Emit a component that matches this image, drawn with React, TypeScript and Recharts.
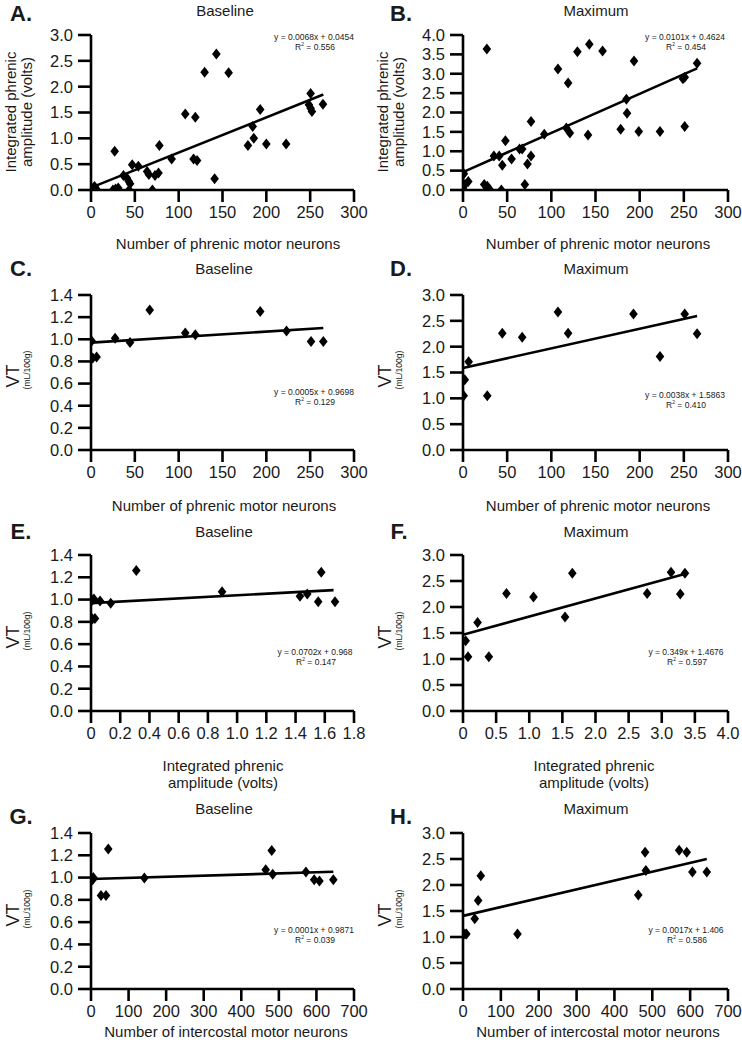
import React from 'react';
import { ScatterChart, Scatter, XAxis, YAxis, ReferenceLine } from 'recharts';

const FONT = '"Liberation Sans", Arial, Helvetica, sans-serif';

// ---------- Data ----------
const aX = [0, 1, 2, 4, 6, 27, 25, 28, 31, 37, 41, 43, 44.6, 43.5, 47, 54, 64, 66, 70, 73, 77, 78, 92, 107.5, 119, 117, 121, 129.6, 143, 141, 157, 179, 184.5, 185.7, 193, 200, 222.6, 250.5, 248.6, 250.5, 252, 264.6];
const aY = [0.05, 0.0, 0.02, 0.07, 0.02, 0.75, 0.0, 0.02, 0.04, 0.28, 0.23, 0.17, 0.12, 0.0, 0.49, 0.46, 0.36, 0.3, 0.0, 0.28, 0.33, 0.86, 0.6, 1.47, 1.41, 0.6, 0.57, 2.28, 2.63, 0.22, 2.27, 0.86, 1.23, 1.0, 1.56, 0.89, 0.89, 1.87, 1.65, 1.58, 1.52, 1.66];

const bX = [0, 0, 1, 2.5, 6, 27, 24, 27.5, 30, 35, 41, 43.4, 44.5, 48, 55, 64, 67, 70, 73, 77, 77, 92, 107.5, 119, 117, 121, 129.5, 143, 141.5, 158, 178.5, 185, 185.7, 193.6, 199, 223, 249, 251, 251, 265];
const bY = [0.05, 0.0, 0.42, 0.15, 0.22, 3.64, 0.14, 0.1, 0.02, 0.88, 0.88, 0.0, 0.64, 1.27, 0.8, 1.06, 1.06, 0.14, 0.67, 0.88, 1.77, 1.44, 3.12, 2.76, 1.6, 1.47, 3.57, 3.76, 1.42, 3.59, 1.57, 2.34, 1.98, 3.33, 1.51, 1.51, 2.87, 2.91, 1.64, 3.27];

const cX = [0.8, 2, 6.4, 27.5, 44.5, 67, 107.5, 119, 193, 223, 251, 265];
const cY = [0.985, 0.83, 0.84, 1.01, 0.97, 1.265, 1.057, 1.04, 1.25, 1.075, 0.98, 0.98];

const dX = [0.8, 2, 6.4, 27.5, 44.5, 67, 107.5, 119, 193, 223, 251, 265];
const dY = [1.05, 1.36, 1.71, 1.05, 2.26, 2.18, 2.67, 2.26, 2.63, 1.81, 2.63, 2.25];

const eX = [0.01, 0.02, 0.01, 0.027, 0.062, 0.135, 0.31, 0.897, 1.43, 1.48, 1.555, 1.576, 1.67];
const eY = [0.996, 1.005, 0.826, 0.83, 0.987, 0.966, 1.26, 1.07, 1.03, 1.05, 0.98, 1.245, 0.98];

const fX = [0.04, 0.076, 0.22, 0.39, 0.656, 1.064, 1.54, 1.65, 2.78, 3.14, 3.28, 3.35];
const fY = [1.35, 1.045, 1.7, 1.045, 2.26, 2.19, 1.81, 2.65, 2.26, 2.67, 2.25, 2.65];

const gX = [4.4, 6, 26.6, 40, 46, 142, 465, 481, 483.6, 572, 594, 608, 645];
const gY = [0.98, 1.0, 0.84, 0.84, 1.256, 0.996, 1.07, 1.244, 1.03, 1.05, 0.98, 0.97, 0.98];

const hX = [5, 9, 31, 40, 47, 144, 463, 481, 483, 571, 591, 606, 644];
const hY = [1.06, 1.06, 1.35, 1.7, 2.18, 1.06, 1.81, 2.63, 2.28, 2.67, 2.63, 2.25, 2.25];

// regression: [slope, intercept, xStart, xEnd]
const fitA = [0.0068, 0.0454, 0, 265];
const fitB = [0.0101, 0.4624, 0, 265];
const fitC = [0.0005, 0.9698, 0, 265];
const fitD = [0.0038, 1.5863, 0, 265];
const fitE = [0.0702, 0.968, 0, 1.66];
const fitF = [0.349, 1.4676, 0, 3.36];
const fitG = [0.0001, 0.9871, 0, 645];
const fitH = [0.0017, 1.406, 0, 644];

const eqA = ['y = 0.0068x + 0.0454', '0.556'];
const eqB = ['y = 0.0101x + 0.4624', '0.454'];
const eqC = ['y = 0.0005x + 0.9698', '0.129'];
const eqD = ['y = 0.0038x + 1.5863', '0.410'];
const eqE = ['y = 0.0702x + 0.968', '0.147'];
const eqF = ['y = 0.349x + 1.4676', '0.597'];
const eqG = ['y = 0.0001x + 0.9871', '0.039'];
const eqH = ['y = 0.0017x + 1.406', '0.586'];

// ticks
const ticksMN = [0, 50, 100, 150, 200, 250, 300];
const ticksAmpE = [0, 0.2, 0.4, 0.6, 0.8, 1.0, 1.2, 1.4, 1.6, 1.8];
const ticksAmpF = [0, 0.5, 1.0, 1.5, 2.0, 2.5, 3.0, 3.5, 4.0];
const ticksIC = [0, 100, 200, 300, 400, 500, 600, 700];
const ticksY3 = [0, 0.5, 1.0, 1.5, 2.0, 2.5, 3.0];
const ticksY4 = [0, 0.5, 1.0, 1.5, 2.0, 2.5, 3.0, 3.5, 4.0];
const ticksY14 = [0, 0.2, 0.4, 0.6, 0.8, 1.0, 1.2, 1.4];

// ---------- Helpers ----------
const Diamond = (props: any) => {
  const { cx, cy } = props;
  if (cx == null || cy == null || isNaN(cx) || isNaN(cy)) return null;
  return (
    <polygon
      points={`${cx},${cy - 5.5} ${cx + 4.3},${cy} ${cx},${cy + 5.5} ${cx - 4.3},${cy}`}
      fill="#000"
    />
  );
};

const zip = (xs: number[], ys: number[]) => xs.map((x, i) => ({ x, y: ys[i] }));

const fmtInt = (v: number) => String(v);
const fmtDec = (v: number) => v.toFixed(1);
const fmtDecZero = (v: number) => (v === 0 ? '0' : v.toFixed(1));

type PanelProps = {
  col: number;
  row: number;
  xs: number[];
  ys: number[];
  xTicks: number[];
  yTicks: number[];
  fit: number[];
  xFmt: (v: number) => string;
};

const ROW_TOP = [0, 250, 520, 780];
const ROW_MT = [35, 45, 35, 53];
const ROW_MB = [30, 20, 29, 11];
const COL_LEFT = [0, 371];
const COL_ML = [31, 32];
const COL_MR = [17, 14];

const axisStyle = { stroke: '#000', strokeWidth: 2.6 };
const tickStyle = { fill: '#1a1a1a', fontSize: 16.5, fontFamily: FONT };

const Panel = ({ col, row, xs, ys, xTicks, yTicks, fit, xFmt }: PanelProps) => {
  const data = zip(xs, ys);
  const [m, b, x0, x1] = fit;
  return (
    <div style={{ position: 'absolute', left: COL_LEFT[col], top: ROW_TOP[row] }}>
      <ScatterChart
        width={371}
        height={250}
        margin={{ top: ROW_MT[row], bottom: ROW_MB[row], left: COL_ML[col], right: COL_MR[col] }}
      >
        <XAxis
          type="number"
          dataKey="x"
          domain={[xTicks[0], xTicks[xTicks.length - 1]]}
          ticks={xTicks}
          tickFormatter={xFmt}
          interval={0}
          height={30}
          axisLine={axisStyle}
          tickLine={axisStyle}
          tickSize={12}
          tickMargin={4}
          tick={tickStyle}
          allowDataOverflow
        />
        <YAxis
          type="number"
          dataKey="y"
          domain={[yTicks[0], yTicks[yTicks.length - 1]]}
          ticks={yTicks}
          tickFormatter={fmtDec}
          interval={0}
          width={60}
          axisLine={axisStyle}
          tickLine={axisStyle}
          tickSize={13}
          tickMargin={5}
          tick={tickStyle}
          allowDataOverflow
        />
        <ReferenceLine
          segment={[
            { x: x0, y: m * x0 + b },
            { x: x1, y: m * x1 + b },
          ]}
          stroke="#000"
          strokeWidth={2.6}
        />
        <Scatter data={data} shape={Diamond} isAnimationActive={false} />
      </ScatterChart>
    </div>
  );
};

const T = ({
  x,
  y,
  size,
  bold,
  rotate,
  children,
}: {
  x: number;
  y: number;
  size: number;
  bold?: boolean;
  rotate?: boolean;
  children: React.ReactNode;
}) => (
  <div
    style={{
      position: 'absolute',
      left: x,
      top: y,
      transform: `translate(-50%, -50%)${rotate ? ' rotate(-90deg)' : ''}`,
      fontFamily: FONT,
      fontSize: size,
      fontWeight: bold ? 700 : 400,
      lineHeight: 1,
      whiteSpace: 'nowrap',
      color: '#1a1a1a',
      textAlign: 'center',
    }}
  >
    {children}
  </div>
);

const Eq = ({ x, y, eq }: { x: number; y: number; eq: string[] }) => (
  <>
    <T x={x} y={y} size={8.5}>
      {eq[0]}
    </T>
    <T x={x + 1} y={y + 10} size={8.5}>
      R<sup style={{ fontSize: 5, verticalAlign: 'top', position: 'relative', top: -1 }}>2</sup> = {eq[1]}
    </T>
  </>
);

const VT = ({ x, y }: { x: number; y: number }) => (
  <>
    <T x={x} y={y + 4} size={18} rotate>
      VT
    </T>
    <T x={x + 14} y={y - 2} size={8.5} rotate>
      (mL/100g)
    </T>
  </>
);

export default function App() {
  return (
    <div
      style={{
        position: 'absolute',
        left: 0,
        top: 0,
        width: 742,
        height: 1048,
        background: '#fff',
        overflow: 'hidden',
      }}
    >
      <Panel col={0} row={0} xs={aX} ys={aY} xTicks={ticksMN} yTicks={ticksY3} fit={fitA} xFmt={fmtInt} />
      <Panel col={1} row={0} xs={bX} ys={bY} xTicks={ticksMN} yTicks={ticksY4} fit={fitB} xFmt={fmtInt} />
      <Panel col={0} row={1} xs={cX} ys={cY} xTicks={ticksMN} yTicks={ticksY14} fit={fitC} xFmt={fmtInt} />
      <Panel col={1} row={1} xs={dX} ys={dY} xTicks={ticksMN} yTicks={ticksY3} fit={fitD} xFmt={fmtInt} />
      <Panel col={0} row={2} xs={eX} ys={eY} xTicks={ticksAmpE} yTicks={ticksY14} fit={fitE} xFmt={fmtDecZero} />
      <Panel col={1} row={2} xs={fX} ys={fY} xTicks={ticksAmpF} yTicks={ticksY3} fit={fitF} xFmt={fmtDecZero} />
      <Panel col={0} row={3} xs={gX} ys={gY} xTicks={ticksIC} yTicks={ticksY14} fit={fitG} xFmt={fmtInt} />
      <Panel col={1} row={3} xs={hX} ys={hY} xTicks={ticksIC} yTicks={ticksY3} fit={fitH} xFmt={fmtInt} />

      {/* panel letters */}
      <T x={21} y={14} size={22} bold>A.</T>
      <T x={401} y={14} size={22} bold>B.</T>
      <T x={21} y={269} size={22} bold>C.</T>
      <T x={401} y={269} size={22} bold>D.</T>
      <T x={21} y={532} size={22} bold>E.</T>
      <T x={399} y={532} size={22} bold>F.</T>
      <T x={21} y={817} size={22} bold>G.</T>
      <T x={401} y={817} size={22} bold>H.</T>

      {/* titles */}
      <T x={225} y={10} size={15}>Baseline</T>
      <T x={596} y={10} size={15}>Maximum</T>
      <T x={224} y={268} size={15}>Baseline</T>
      <T x={596} y={268} size={15}>Maximum</T>
      <T x={224} y={531} size={15}>Baseline</T>
      <T x={596} y={531} size={15}>Maximum</T>
      <T x={224} y={808} size={15}>Baseline</T>
      <T x={596} y={808} size={15}>Maximum</T>

      {/* x-axis labels */}
      <T x={228} y={243} size={15}>Number of phrenic motor neurons</T>
      <T x={598} y={243} size={15}>Number of phrenic motor neurons</T>
      <T x={224} y={505} size={15}>Number of phrenic motor neurons</T>
      <T x={598} y={505} size={15}>Number of phrenic motor neurons</T>
      <T x={223} y={765} size={15}>Integrated phrenic</T>
      <T x={223} y={782} size={15}>amplitude (volts)</T>
      <T x={594} y={765} size={15}>Integrated phrenic</T>
      <T x={594} y={782} size={15}>amplitude (volts)</T>
      <T x={226} y={1031} size={15}>Number of intercostal motor neurons</T>
      <T x={598} y={1031} size={15}>Number of intercostal motor neurons</T>

      {/* y-axis labels */}
      <T x={10} y={112} size={15} rotate>Integrated phrenic</T>
      <T x={26} y={112} size={15} rotate>amplitude (volts)</T>
      <T x={382} y={112} size={15} rotate>Integrated phrenic</T>
      <T x={398} y={112} size={15} rotate>amplitude (volts)</T>
      <VT x={13} y={372} />
      <VT x={385} y={372} />
      <VT x={13} y={633} />
      <VT x={385} y={633} />
      <VT x={13} y={911} />
      <VT x={385} y={911} />

      {/* equations */}
      <Eq x={314} y={37} eq={eqA} />
      <Eq x={685} y={37} eq={eqB} />
      <Eq x={314} y={392} eq={eqC} />
      <Eq x={685} y={395} eq={eqD} />
      <Eq x={315} y={652} eq={eqE} />
      <Eq x={686} y={652} eq={eqF} />
      <Eq x={314} y={930} eq={eqG} />
      <Eq x={686} y={930} eq={eqH} />
    </div>
  );
}
